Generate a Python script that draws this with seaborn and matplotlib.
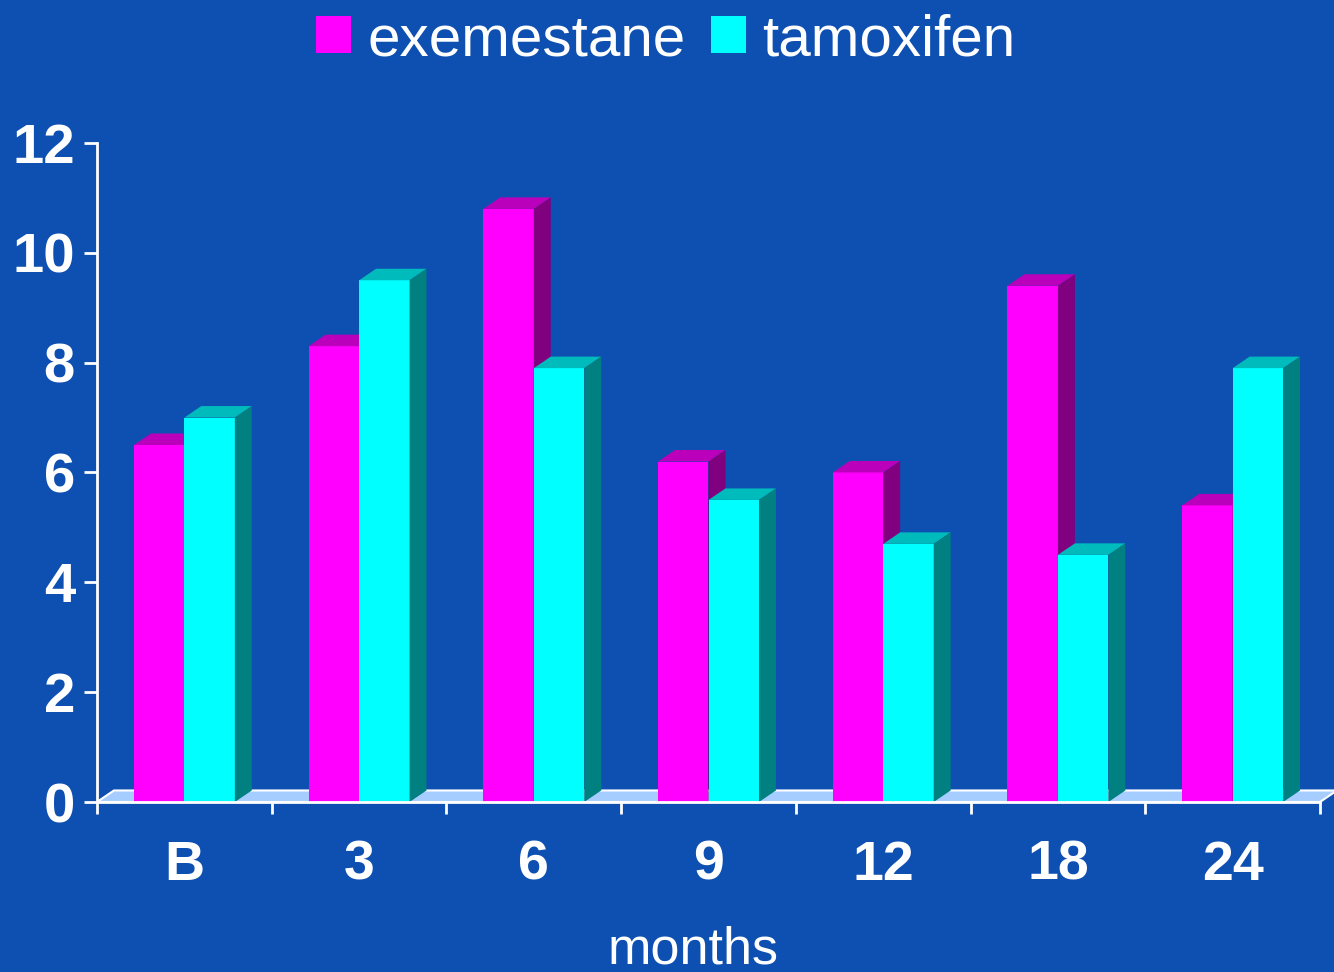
import matplotlib
matplotlib.use("Agg")
import matplotlib.pyplot as plt
from matplotlib.patches import Polygon
import seaborn as sns
import pandas as pd

# ---- data ----
months = ["B", "3", "6", "9", "12", "18", "24"]
exemestane = [6.5, 8.3, 10.8, 6.2, 6.0, 9.4, 5.4]
tamoxifen = [7.0, 9.5, 7.9, 5.5, 4.7, 4.5, 7.9]
series_names = ["exemestane", "tamoxifen"]
y_ticks = [0, 2, 4, 6, 8, 10, 12]

BG = "#0E50B2"
FRONT = {"exemestane": "#FF00FF", "tamoxifen": "#00FFFF"}
TOP = {"exemestane": "#BB00BB", "tamoxifen": "#00BBBB"}
SIDE = {"exemestane": "#800080", "tamoxifen": "#008080"}
FLOOR = "#A6CDFF"

df = pd.DataFrame({
    "month": months * 2,
    "value": exemestane + tamoxifen,
    "drug": [series_names[0]] * len(months) + [series_names[1]] * len(months),
})

sns.set_style("white", rc={"axes.facecolor": BG, "figure.facecolor": BG})
plt.rcParams["font.family"] = ["Liberation Sans", "DejaVu Sans"]

fig = plt.figure(figsize=(13.34, 9.72), dpi=100)
ax = fig.add_axes([97 / 1334, (972 - 802) / 972, 1223 / 1334, 659 / 972])
ax.set_facecolor(BG)

sns.barplot(data=df, x="month", y="value", hue="drug", order=months,
            hue_order=series_names, palette=FRONT, width=0.578,
            saturation=1, ax=ax, legend=True)

ax.set_xlim(-0.5, 6.5)
ax.set_ylim(0, 12)

dx, dy = 0.097, 0.21  # 3D depth offset in data units

# floor
floor = Polygon([(-0.5, 0), (6.5, 0), (6.5 + dx, dy), (-0.5 + dx, dy)],
                closed=True, facecolor=FLOOR, edgecolor="white", linewidth=1.5,
                zorder=1, clip_on=False)
ax.add_patch(floor)

for k, (name, cont) in enumerate(zip(series_names, ax.containers)):
    base_z = 2 + 2 * k
    for bar in cont:
        x, w, h = bar.get_x(), bar.get_width(), bar.get_height()
        bar.set_edgecolor("none")
        bar.set_linewidth(0)
        bar.set_zorder(base_z)
        top = Polygon([(x, h), (x + dx, h + dy), (x + w + dx, h + dy), (x + w, h)],
                      closed=True, facecolor=TOP[name], edgecolor="none",
                      zorder=base_z + 0.5, clip_on=False)
        side = Polygon([(x + w, 0), (x + w + dx, dy), (x + w + dx, h + dy), (x + w, h)],
                       closed=True, facecolor=SIDE[name], edgecolor="none",
                       zorder=base_z + 0.5, clip_on=False)
        ax.add_patch(top)
        ax.add_patch(side)

# axes styling
for s in ["top", "right"]:
    ax.spines[s].set_visible(False)
for s in ["left", "bottom"]:
    ax.spines[s].set_color("white")
    ax.spines[s].set_linewidth(2)
    ax.spines[s].set_zorder(10)

ax.set_yticks(y_ticks)
ax.set_yticklabels([str(t) for t in y_ticks])
ax.tick_params(axis="y", colors="white", length=9.4, width=2, pad=6.5,
               labelsize=40.5, direction="out", left=True)
for lab in ax.get_yticklabels():
    lab.set_fontweight("bold")

ax.set_xticks(range(len(months)))
ax.set_xticklabels(months)
ax.tick_params(axis="x", which="major", length=0, pad=27, labelsize=40,
               colors="white")
for lab in ax.get_xticklabels():
    lab.set_fontweight("bold")
ax.set_xticks([i - 0.5 for i in range(len(months) + 1)], minor=True)
ax.tick_params(axis="x", which="minor", length=8.6, width=2, color="white",
               direction="out", bottom=True)

ax.set_ylabel("")
ax.set_xlabel("months", fontsize=37.5, color="white")
ax.xaxis.set_label_coords((693 - 97) / 1223, (802 - 950) / 659)
ax.xaxis.label.set_va("center")
ax.grid(False)

handles, labels = ax.get_legend_handles_labels()
if ax.legend_ is not None:
    ax.legend_.remove()
leg = fig.legend(handles, labels, loc="center",
                 bbox_to_anchor=(666 / 1334, 1 - 40 / 972), ncol=2,
                 frameon=False, fontsize=42, handlelength=0.6, handleheight=0.6,
                 handletextpad=0.28, columnspacing=0.43, borderpad=0)
for t in leg.get_texts():
    t.set_color("white")
for p in leg.get_patches():
    p.set_edgecolor("none")
    p.set_linewidth(0)

fig.savefig("out.png", dpi=100, facecolor=BG)
